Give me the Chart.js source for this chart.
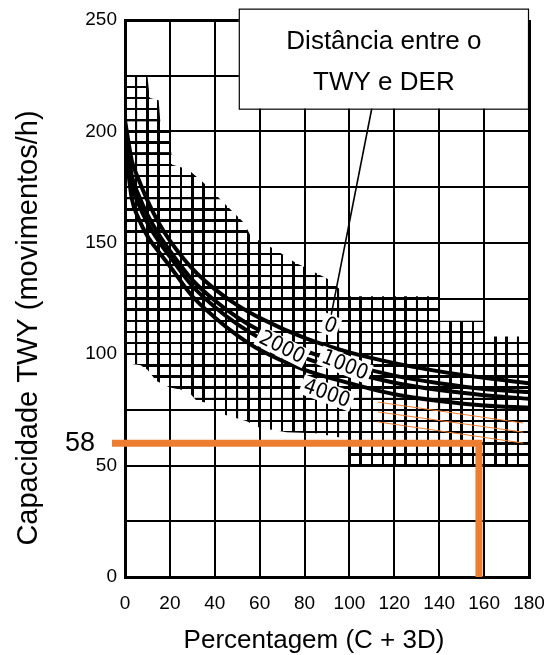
<!DOCTYPE html>
<html><head><meta charset="utf-8">
<script src="https://cdn.jsdelivr.net/npm/chart.js@4/dist/chart.umd.min.js"></script>
<style>html,body{margin:0;padding:0;background:#fff;}#wrap{width:544px;height:655px;}</style>
</head><body><div id="wrap"><canvas id="c" width="544" height="655"></canvas></div>
<script>
// ---------- data ----------
const X_TICKS = [0, 20, 40, 60, 80, 100, 120, 140, 160, 180];
const Y_TICKS = [0, 50, 100, 150, 200, 250];
const CURVE_X = [0, 3, 6, 10, 15, 20, 30, 40, 50, 60, 80, 100, 120, 140, 160, 180];
const CURVE_0    = [205, 187, 178.6, 169, 159, 151, 138.4, 129.2, 122, 116.3, 107.3, 100.8, 96, 92.3, 89.4, 87];
const CURVE_1000 = [201, 180.2, 171.6, 162.6, 153.8, 146.4, 133.4, 124.1, 116.6, 110.6, 101.6, 95.3, 90.4, 87, 84.4, 83];
const CURVE_2000 = [198.7, 176.3, 167.5, 158.9, 150.8, 143.8, 130.6, 121.2, 113.5, 107.3, 98.3, 92.1, 87.2, 83.9, 81.6, 80];
const CURVE_4000 = [195, 170, 161, 153, 146, 139.5, 126, 116.5, 108.5, 102, 93, 87, 82, 79, 77, 76];
const ENVELOPE_UPPER = [[0,225],[10,225],[11,215],[15,214],[16,201],[20,200],[21,185],[28,183],[35,177],[41,171],[46,166],[53,159],[56,153],[65,148],[70,145],[76,141],[82,138],[90,134],[97,128],[100,126],[140,126],[140,115],[160,115],[160,108],[180,108]];
const ENVELOPE_LOWER = [[180,50],[100,50],[99,62],[85,64.5],[72,65],[60,67],[54,70],[42,73.5],[38,78],[32,79],[28,83.5],[20,85],[14,88],[10,93],[7,95],[0,96]];
const READOUT_PATH = [[-5.8,60],[157.7,60],[157.7,0]];
const READOUT_LABEL = '58';
const GUIDE_1 = [[112.7,78.5],[177.4,69.1]];
const GUIDE_2 = [[112.7,74.1],[177.4,65.0]];
const GUIDE_3 = [[112.7,69.6],[177.4,60.1]];
const LEADER = [[91.4,115.3],[110,210.5]];
const CURVE_LABELS = ['0', '2000', '1000', '4000'];
const CURVE_LABEL_AT = [[91.5,113],[70,103.2],[98,95.2],[90,82.5]];
const BOX_TEXT = ['Distância entre o', 'TWY e DER'];
const X_TITLE = 'Percentagem (C + 3D)';
const Y_TITLE = 'Capacidade TWY (movimentos/h)';

// ---------- helpers ----------
const pts = a => a.map(([x, y]) => ({x, y}));
const curve = ys => CURVE_X.map((x, i) => ({x, y: ys[i]}));
const ORANGE = '#ED7D31';
const NARROW = "'Liberation Sans Narrow','DejaVu Sans Condensed','Arial Narrow',Arial,sans-serif";
const SANS = "'Liberation Sans',Arial,Helvetica,sans-serif";

// hatch pattern (fine 5-unit grid), aligned to scales at draw time
const tile = document.createElement('canvas');
tile.width = tile.height = 100;
const tc = tile.getContext('2d');
tc.fillStyle = '#000';
tc.fillRect(0, 0, 11, 100); tc.fillRect(89, 0, 11, 100);
tc.fillRect(0, 0, 100, 11); tc.fillRect(0, 89, 100, 11);
const canvas = document.getElementById('c');
const ctx0 = canvas.getContext('2d');
const hatch = ctx0.createPattern(tile, 'repeat');

const envelope = pts([...ENVELOPE_UPPER, ...ENVELOPE_LOWER, ENVELOPE_UPPER[0]]);

const alignPattern = {
  id: 'alignPattern',
  beforeDatasetsDraw(chart) {
    const xs = chart.scales.x, ys = chart.scales.y;
    const x0 = xs.getPixelForValue(0), y0 = ys.getPixelForValue(0);
    const sx = (xs.getPixelForValue(5) - x0) / 100;
    const sy = (y0 - ys.getPixelForValue(5)) / 100;
    hatch.setTransform(new DOMMatrix([sx, 0, 0, sy, x0, y0]));
  }
};

const overlay = {
  id: 'overlay',
  afterDatasetsDraw(chart) {
    const c = chart.ctx, xs = chart.scales.x, ys = chart.scales.y;
    const rots = [22, 27, 22, 20];
    c.save();
    CURVE_LABELS.forEach((t, i) => {
      const px = xs.getPixelForValue(CURVE_LABEL_AT[i][0]);
      const py = ys.getPixelForValue(CURVE_LABEL_AT[i][1]);
      c.save();
      c.translate(px, py);
      c.rotate(rots[i] * Math.PI / 180);
      c.font = '21px ' + NARROW;
      const w = c.measureText(t).width;
      c.fillStyle = '#fff';
      c.fillRect(-w / 2 - 3, -10, w + 6, 20);
      c.fillStyle = '#000';
      c.textAlign = 'center'; c.textBaseline = 'middle';
      c.fillText(t, 0, 1);
      c.restore();
    });
    c.restore();
  },
  afterDraw(chart) {
    const c = chart.ctx, xs = chart.scales.x, ys = chart.scales.y;
    c.save();
    // annotation box
    const bl = xs.getPixelForValue(50.7), br = xs.getPixelForValue(180);
    const bt = ys.getPixelForValue(255.1), bb = ys.getPixelForValue(210.2);
    c.fillStyle = '#fff';
    c.fillRect(bl, bt, br - bl, bb - bt);
    c.strokeStyle = '#000'; c.lineWidth = 1.2;
    c.strokeRect(bl + 0.5, bt + 0.5, br - bl - 1, bb - bt);
    c.fillStyle = '#000';
    c.font = '26px ' + SANS;
    c.textAlign = 'center'; c.textBaseline = 'middle';
    const cx = (bl + br) / 2;
    c.fillText(BOX_TEXT[0], cx, bt + 33);
    c.fillText(BOX_TEXT[1], cx, bt + 74);
    // readout label
    c.font = '27px ' + SANS;
    c.textAlign = 'right';
    c.fillText(READOUT_LABEL, 95, ys.getPixelForValue(READOUT_PATH[0][1]));
    // axis titles
    c.font = '26px ' + SANS;
    c.textAlign = 'center';
    c.fillText(X_TITLE, 314, 641);
    c.save();
    c.translate(29, 328);
    c.rotate(-Math.PI / 2);
    c.font = '29px ' + SANS;
    c.fillText(Y_TITLE, 0, 0);
    c.restore();
    c.restore();
  }
};

const edge = (v, a, b) => (v === a || v === b) ? 3 : 2;

new Chart(canvas, {
  type: 'scatter',
  data: {
    datasets: [
      { label: 'envelope', data: envelope, showLine: true, fill: 'shape', backgroundColor: hatch,
        borderWidth: 0, borderColor: 'rgba(0,0,0,0)', pointRadius: 0, tension: 0, order: 10 },
      { label: '0', data: curve(CURVE_0), showLine: true, borderColor: '#000', borderWidth: 4, pointRadius: 0, cubicInterpolationMode: 'monotone', order: 5 },
      { label: '1000', data: curve(CURVE_1000), showLine: true, borderColor: '#000', borderWidth: 4, pointRadius: 0, cubicInterpolationMode: 'monotone', order: 5 },
      { label: '2000', data: curve(CURVE_2000), showLine: true, borderColor: '#000', borderWidth: 4, pointRadius: 0, cubicInterpolationMode: 'monotone', order: 5 },
      { label: '4000', data: curve(CURVE_4000), showLine: true, borderColor: '#000', borderWidth: 4, pointRadius: 0, cubicInterpolationMode: 'monotone', order: 5 },
      { label: 'leader', data: pts(LEADER), showLine: true, borderColor: '#000', borderWidth: 1.6, pointRadius: 0, order: 4 },
      { label: 'guide1', data: pts(GUIDE_1), showLine: true, borderColor: ORANGE, borderWidth: 1, pointRadius: 0, order: 3 },
      { label: 'guide2', data: pts(GUIDE_2), showLine: true, borderColor: ORANGE, borderWidth: 1, pointRadius: 0, order: 3 },
      { label: 'guide3', data: pts(GUIDE_3), showLine: true, borderColor: ORANGE, borderWidth: 1, pointRadius: 0, order: 3 },
      { label: 'readout', data: pts(READOUT_PATH), showLine: true, borderColor: ORANGE, borderWidth: 7, pointRadius: 0,
        borderCapStyle: 'butt', borderJoinStyle: 'miter', clip: {left: 30, top: 0, right: 0, bottom: 0}, order: 1 }
    ]
  },
  options: {
    responsive: false, animation: false, devicePixelRatio: 1,
    layout: { padding: { left: 0, top: 20, right: 15, bottom: 0 } },
    plugins: { legend: { display: false }, tooltip: { enabled: false } },
    scales: {
      x: {
        type: 'linear', min: 0, max: 180,
        afterFit: s => { s.height = 78; s.paddingLeft = 0; s.paddingRight = 0; },
        border: { display: true, color: '#000', width: 3 },
        grid: { color: '#000', lineWidth: ctx => edge(ctx.tick && ctx.tick.value, 0, 180), drawTicks: false },
        ticks: { stepSize: 20, padding: 15, color: '#000', font: { family: SANS, size: 19 },
          callback: v => X_TICKS.includes(v) ? String(v) : '' }
      },
      y: {
        type: 'linear', min: 0, max: 250,
        afterFit: s => { s.width = 125; s.paddingTop = 0; s.paddingBottom = 0; },
        border: { display: true, color: '#000', width: 3 },
        grid: { color: '#000', lineWidth: ctx => edge(ctx.tick && ctx.tick.value, 0, 250), drawTicks: false },
        ticks: { stepSize: 25, padding: 8, color: '#000', font: { family: SANS, size: 19 },
          callback: v => Y_TICKS.includes(v) ? String(v) : '' }
      }
    }
  },
  plugins: [alignPattern, overlay]
});
</script>
</body></html>
